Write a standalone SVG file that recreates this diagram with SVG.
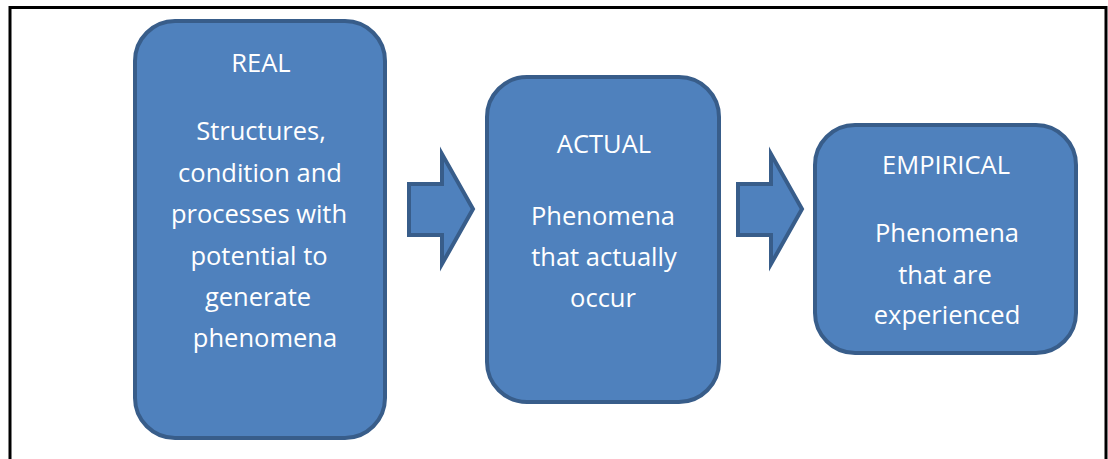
<svg xmlns="http://www.w3.org/2000/svg" width="1108" height="459" viewBox="0 0 1108 459">
  <defs>
    <style>
      .box { fill: #4f81bd; stroke: #385d8a; stroke-width: 4; }
      .arrow { fill: #4f81bd; stroke: #385d8a; stroke-width: 4; stroke-linejoin: miter; }
      .frame { fill: none; stroke: #000000; stroke-width: 3; }
      .label { fill: #ffffff; font-family: "Open Sans", "Liberation Sans", sans-serif; font-size: 25.5px; text-anchor: middle; }
    </style>
  </defs>
  <rect width="1108" height="459" fill="#ffffff"/>

  <!-- outer frame, open at the bottom -->
  <path class="frame" d="M10,459 V7.5 H1106 V459"/>

  <!-- block arrows between the levels -->
  <g id="connectors">
    <polygon class="arrow" points="409,184 442,184 442,154 473,209 442,264 442,235 409,235"/>
    <polygon class="arrow" points="738,184 771,184 771,154 802,209 771,264 771,235 738,235"/>
  </g>

  <g id="node-real">
    <rect class="box" x="135" y="21" width="250" height="417" rx="40" ry="40"/>
    <text class="label" x="261" y="72">REAL</text>
    <text class="label" x="261" y="140">Structures,</text>
    <text class="label" x="260" y="182">condition and</text>
    <text class="label" x="259" y="223">processes with</text>
    <text class="label" x="259" y="265">potential to</text>
    <text class="label" x="258" y="306">generate</text>
    <text class="label" x="265" y="347">phenomena</text>
  </g>

  <g id="node-actual">
    <rect class="box" x="487" y="77" width="232" height="325" rx="40" ry="40"/>
    <text class="label" x="604" y="153">ACTUAL</text>
    <text class="label" x="603" y="225">Phenomena</text>
    <text class="label" x="604" y="266">that actually</text>
    <text class="label" x="603" y="307">occur</text>
  </g>

  <g id="node-empirical">
    <rect class="box" x="815" y="125" width="261" height="228" rx="40" ry="40"/>
    <text class="label" x="946" y="174">EMPIRICAL</text>
    <text class="label" x="947" y="242">Phenomena</text>
    <text class="label" x="945" y="284">that are</text>
    <text class="label" x="947" y="324">experienced</text>
  </g>
</svg>
